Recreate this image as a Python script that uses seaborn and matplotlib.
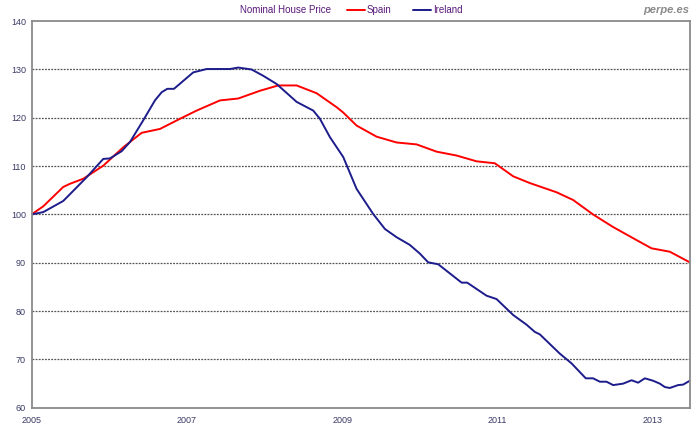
import matplotlib
matplotlib.use("Agg")
import matplotlib.pyplot as plt
import seaborn as sns
import pandas as pd

# Years (fractional) and index values
spain_t = [0.0, 0.152, 0.409, 0.495, 0.667, 0.924, 1.181, 1.418, 1.654, 1.911,
           2.126, 2.426, 2.662, 2.941, 3.176, 3.413, 3.670, 3.928, 4.013, 4.185,
           4.443, 4.700, 4.958, 5.215, 5.472, 5.730, 5.965, 6.201, 6.416, 6.759,
           6.973, 7.230, 7.488, 7.745, 7.982, 8.217, 8.475]
spain_v = [100.0, 101.7, 105.7, 106.35, 107.4, 110.1, 113.9, 116.9, 117.7, 119.8,
           121.5, 123.6, 124.0, 125.6, 126.7, 126.7, 125.1, 122.2, 121.1, 118.4,
           116.1, 114.9, 114.5, 113.0, 112.2, 111.0, 110.6, 107.9, 106.5, 104.6,
           103.0, 100.0, 97.4, 95.1, 93.0, 92.3, 90.1]

ireland_t = [0.0, 0.152, 0.409, 0.710, 0.839, 0.924, 1.010, 1.161, 1.268, 1.439,
             1.589, 1.676, 1.748, 1.834, 2.082, 2.255, 2.555, 2.662, 2.834, 2.983,
             3.156, 3.413, 3.627, 3.713, 3.842, 4.013, 4.185, 4.399, 4.550, 4.700,
             4.871, 5.000, 5.107, 5.236, 5.537, 5.609, 5.858, 5.987, 6.201, 6.373,
             6.480, 6.544, 6.802, 6.952, 7.136, 7.230, 7.317, 7.403, 7.488, 7.616,
             7.725, 7.810, 7.896, 8.003, 8.089, 8.153, 8.217, 8.324, 8.389, 8.475]
ireland_v = [100.0, 100.5, 102.8, 107.7, 110.0, 111.5, 111.6, 113.1, 115.0, 119.5,
             123.6, 125.3, 126.0, 126.0, 129.4, 130.1, 130.1, 130.4, 130.0, 128.7,
             127.0, 123.3, 121.5, 119.8, 116.0, 111.9, 105.3, 100.1, 97.0, 95.3,
             93.7, 91.9, 90.1, 89.7, 85.9, 85.9, 83.2, 82.5, 79.2, 77.2,
             75.7, 75.2, 71.2, 69.2, 66.1, 66.1, 65.4, 65.4, 64.7, 65.0,
             65.7, 65.2, 66.1, 65.6, 65.0, 64.3, 64.1, 64.7, 64.8, 65.6]

start_year = 2005
tick_years = [2005, 2007, 2009, 2011, 2013]
y_ticks = [60, 70, 80, 90, 100, 110, 120, 130, 140]

df = pd.concat([
    pd.DataFrame({"year": [start_year + t for t in spain_t], "value": spain_v, "country": "Spain"}),
    pd.DataFrame({"year": [start_year + t for t in ireland_t], "value": ireland_v, "country": "Ireland"}),
])

sns.set_theme(style="white")
plt.rcParams['font.family'] = ['Liberation Sans', 'DejaVu Sans']

fig = plt.figure(figsize=(7.0, 4.32), dpi=100)
ax = fig.add_axes([0.045, 0.056, 0.941, 0.895])

sns.lineplot(data=df, x="year", y="value", hue="country",
             palette={"Spain": "#ff0000", "Ireland": "#1c1c8c"},
             linewidth=1.4, ax=ax, legend=False, sort=False, estimator=None)

ax.set_xlim(2005, 2013.48)
ax.set_ylim(60, 140)
ax.set_xticks(tick_years)
ax.set_xticklabels([str(y) for y in tick_years])
ax.set_yticks(y_ticks)
ax.set_xlabel("")
ax.set_ylabel("")
lab_color = "#3a3a66"
ax.tick_params(axis="both", length=0, labelsize=6.5, labelcolor=lab_color)
ax.tick_params(axis="y", pad=4)
ax.tick_params(axis="x", pad=6)

for y in y_ticks[1:-1]:
    ax.axhline(y, color="#555555", linestyle=(0, (1.5, 1.0)), linewidth=0.9, zorder=0)

for s in ax.spines.values():
    s.set_visible(True)
    s.set_color("#8a8a8a")
    s.set_linewidth(1.3)

# Title + legend row
fig.text(0.408, 0.976, "Nominal House Price", ha="center", va="center",
         fontsize=7, color="#5a1a7a")
from matplotlib.lines import Line2D
handles = [Line2D([0], [0], color="#ff0000", lw=1.4),
           Line2D([0], [0], color="#1c1c8c", lw=1.4)]
fig.legend(handles, ["Spain", "Ireland"], loc="center", bbox_to_anchor=(0.578, 0.976),
           ncol=2, frameon=False, fontsize=7, handlelength=1.9, handletextpad=0.15,
           columnspacing=2.2, labelcolor="#5a1a7a")
fig.text(0.985, 0.976, "perpe.es", ha="right", va="center", fontsize=8,
         color="#8a8a8a", style="italic", fontweight="bold")

fig.savefig("out.png", dpi=100, facecolor="white")
